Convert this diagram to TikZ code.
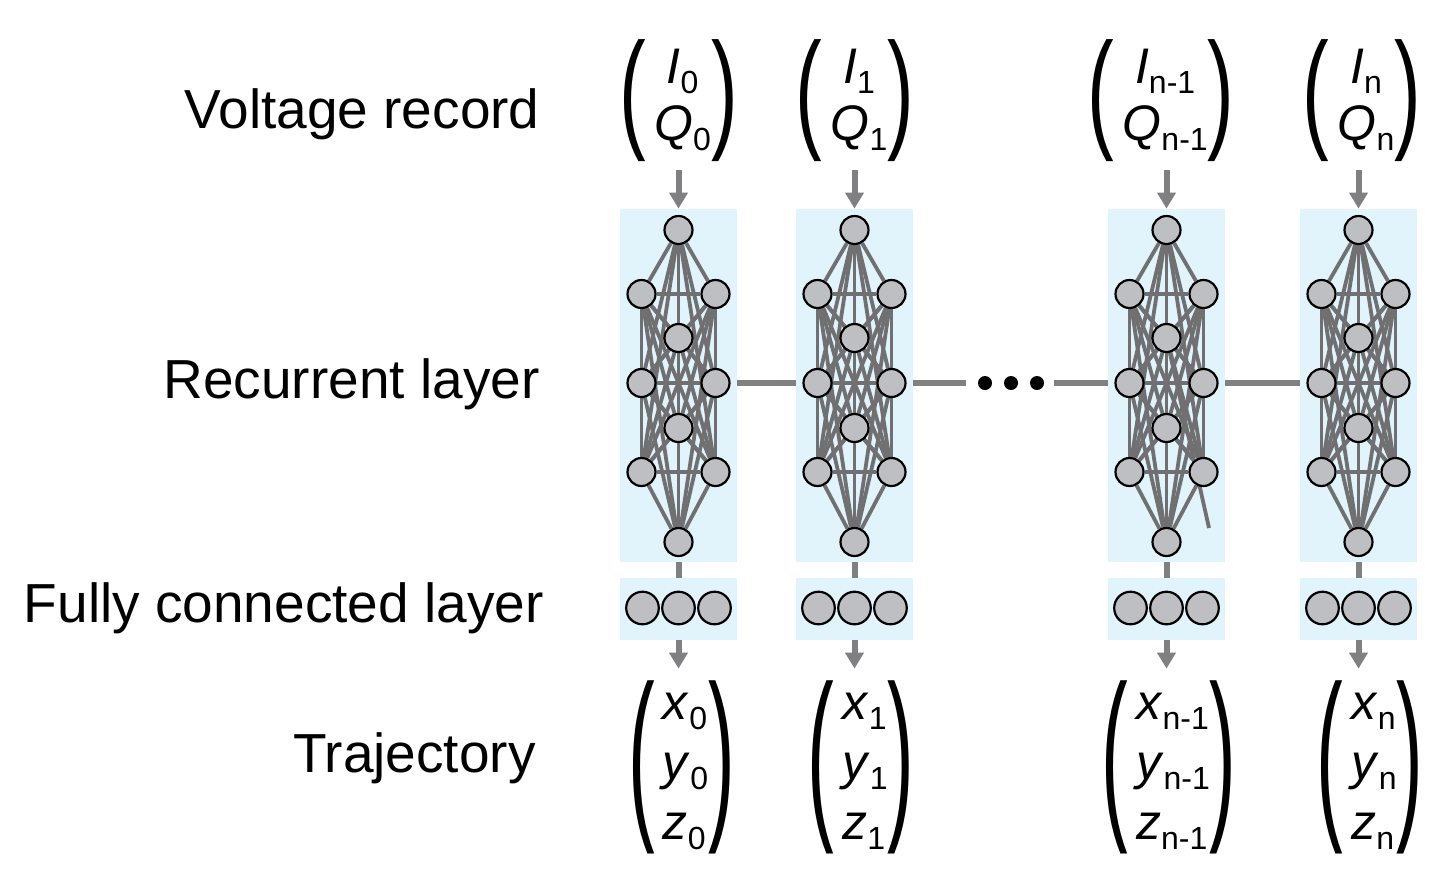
\documentclass[tikz,border=0pt]{standalone}
\usepackage{fontspec}
\setmainfont{Liberation Sans}
\usepackage{graphicx}
\usetikzlibrary{arrows.meta, positioning, backgrounds}
\definecolor{layerbg}{RGB}{225,244,252}
\definecolor{neurongray}{RGB}{190,191,194}
\definecolor{wiregray}{RGB}{112,112,114}
\definecolor{flowgray}{RGB}{128,128,131}
\pgfdeclarelayer{boxes}
\pgfsetlayers{boxes,background,main}
\newcommand{\tallpar}[2]{$\vcenter{\hbox{\scalebox{1.6}[#1]{#2}}}$}
\newcommand{\vsub}[1]{\raisebox{-5pt}{\fontsize{16}{16}\selectfont #1}}

\begin{document}
\begin{tikzpicture}[
    x=0.5pt, y=-0.5pt,
    rowLabel/.style={anchor=base east, font=\fontsize{27.5}{33}\selectfont, inner sep=0pt},
    vecIn/.style={font=\fontsize{25}{28.5}\selectfont, inner sep=4pt},
    vecOut/.style={font=\fontsize{25}{30}\selectfont, inner sep=4pt},
    recBox/.style={fill=layerbg, minimum width=58.5pt, minimum height=176.5pt, inner sep=0pt},
    fcBox/.style={fill=layerbg, minimum width=58.5pt, minimum height=31pt, inner sep=0pt},
    neuron/.style={circle, draw=black, line width=1.1pt, fill=neurongray, minimum size=14pt, inner sep=0pt},
    fcNeuron/.style={circle, draw=black, line width=1.1pt, fill=neurongray, minimum size=16.3pt, inner sep=0pt},
    dotMark/.style={circle, fill=black, minimum size=7pt, inner sep=0pt},
    synapse/.style={draw=wiregray, line width=1.9pt},
    link/.style={draw=flowgray, line width=3pt},
    flowArrow/.style={draw=flowgray, line width=3pt, -{Triangle[width=9pt, length=8pt]}}
]
\useasboundingbox (0,0) rectangle (1442,890);

% Row labels
\node[rowLabel] (lblVolt) at (540,128) {Voltage record};
\node[rowLabel] (lblRec) at (540,398) {Recurrent layer};
\node[rowLabel] (lblFc) at (544,622) {Fully connected layer};
\node[rowLabel] (lblTraj) at (536,772) {Trajectory};

% Time steps
\foreach \c/\x/\xi/\xo/\s in {0/678.5/678.5/681.5/0, 1/854.5/855/861/1, m/1166.5/1161/1169/n-1, n/1358.5/1362/1370/n} {
  \begin{pgfonlayer}{boxes}
    \node[recBox] (rec\c) at (\x,385.5) {};
    \node[fcBox] (fc\c) at (\x,609) {};
  \end{pgfonlayer}
  \node[neuron] (rec\c-t) at (\x,230) {};
  \node[neuron] (rec\c-l1) at (\x-37,294) {};
  \node[neuron] (rec\c-r1) at (\x+37,294) {};
  \node[neuron] (rec\c-c1) at (\x,338) {};
  \node[neuron] (rec\c-l2) at (\x-37,383) {};
  \node[neuron] (rec\c-r2) at (\x+37,383) {};
  \node[neuron] (rec\c-c2) at (\x,428) {};
  \node[neuron] (rec\c-l3) at (\x-37,472) {};
  \node[neuron] (rec\c-r3) at (\x+37,472) {};
  \node[neuron] (rec\c-b) at (\x,542) {};
  \begin{pgfonlayer}{background}
    \foreach \a [count=\i] in {t,l1,r1,c1,l2,r2,c2,l3,r3,b} {
      \foreach \b [count=\j] in {t,l1,r1,c1,l2,r2,c2,l3,r3,b} {
        \ifnum\j>\i \draw[synapse] (rec\c-\a) -- (rec\c-\b); \fi
      }
    }
  \end{pgfonlayer}
  \node[fcNeuron] (fc\c-a) at (\x-36,608) {};
  \node[fcNeuron] (fc\c-b) at (\x,608) {};
  \node[fcNeuron] (fc\c-c) at (\x+36,608) {};

  \node[vecIn] (in\c) at (\xi,101) {\tallpar{2.62}{(}\,\begin{tabular}{@{}c@{}}\textit{I}\vsub{\s}\\ \textit{Q}\vsub{\s}\end{tabular}\tallpar{2.62}{)}};
  \node[vecOut] (out\c) at (\xo,767) {\tallpar{3.72}{(}\hspace{4pt}\begin{tabular}{@{}l@{}}\textit{x}\vsub{\s}\\ \textit{y}\vsub{\s}\\ \textit{z}\vsub{\s}\end{tabular}\tallpar{3.72}{)}};

  \draw[flowArrow] (rec\c.north |- in\c.south) -- (rec\c.north);
  \draw[link] (rec\c) -- (fc\c);
  \draw[flowArrow] (fc\c) -- (fc\c.south |- out\c.north);
}

% stray synapse in step n-1
\coordinate (strayEnd) at (1209,528);
\begin{pgfonlayer}{background}
  \draw[synapse] (recm-c1) -- (strayEnd);
\end{pgfonlayer}

% Recurrent links between time steps
\node[dotMark] (dotA) at (985,383) {};
\node[dotMark] (dotB) at (1011,383) {};
\node[dotMark] (dotC) at (1037,383) {};
\draw[link] (rec0.east |- rec0-r2) -- (rec1.west |- rec1-l2);
\draw[link, shorten >=6pt] (rec1.east |- rec1-r2) -- (dotA);
\draw[link, shorten <=5pt] (dotC) -- (recm.west |- recm-l2);
\draw[link] (recm.east |- recm-r2) -- (recn.west |- recn-l2);

\end{tikzpicture}
\end{document}
